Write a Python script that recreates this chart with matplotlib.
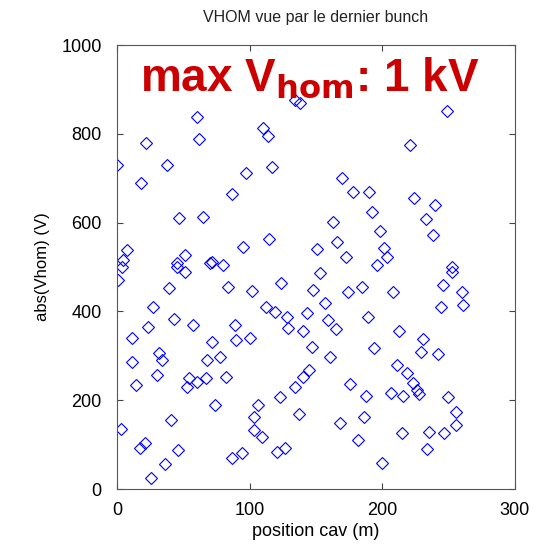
import numpy as np
import matplotlib
matplotlib.use("Agg")
import matplotlib.pyplot as plt

plt.rcParams['font.family'] = ['Liberation Sans', 'DejaVu Sans']

# position cav (m) and abs(Vhom) (V)
pos = [134, 138, 60, 62, 110, 114, 22, 0, 38, 117, 97, 18, 87, 47, 65, 115, 95, 151, 7.5, 4.5,
       51, 45, 72, 80, 249, 221, 170, 178, 190, 224, 240, 192, 233, 163, 238, 198, 166, 173, 201, 204,
       196, 253, 1, 4, 45, 51, 70, 39, 84, 102, 124, 148, 27, 23, 43, 57, 11, 112, 119, 128,
       129, 140, 143, 89, 90, 100, 147, 11, 32, 34, 72, 78, 68, 30, 14, 54, 60, 67, 53, 82,
       74, 123, 134, 140, 145, 106, 103, 103, 109, 137, 3, 41, 17, 21, 46, 36, 26, 87, 94, 121,
       127, 153, 157, 174, 185, 208, 246, 253, 260, 261, 244, 159, 165, 189, 213, 161, 194, 231, 229, 242,
       211, 219, 223, 226, 176, 188, 207, 216, 228, 250, 256, 256, 247, 235, 234, 215, 186, 168, 182, 200]
vhom = [876, 869, 838, 788, 813, 795, 779, 730, 730, 725, 712, 689, 664, 610, 613, 563, 545, 541, 538, 516,
        527, 509, 511, 504, 851, 775, 700, 669, 669, 655, 640, 624, 608, 601, 572, 581, 556, 523, 543, 523,
        504, 500, 471, 500, 500, 489, 509, 452, 455, 446, 464, 448, 410, 365, 383, 369, 340, 410, 399, 387,
        363, 356, 396, 369, 336, 340, 320, 286, 306, 291, 331, 297, 291, 257, 234, 250, 241, 250, 230, 252,
        189, 207, 230, 252, 268, 189, 162, 133, 117, 169, 135, 155, 92, 104, 88, 56, 25, 70, 81, 83,
        92, 486, 419, 444, 455, 444, 459, 489, 444, 414, 410, 381, 360, 387, 356, 297, 318, 338, 309, 304,
        279, 261, 239, 223, 236, 209, 216, 209, 214, 207, 173, 144, 126, 128, 90, 126, 162, 149, 110, 59]

fig = plt.figure(figsize=(5.43, 5.51), dpi=100)
ax = fig.add_axes([0.2155, 0.1125, 0.7325, 0.8055])

ax.plot(pos, vhom, 'D', mfc='none', mec='#0000ff', ms=6.5, mew=0.8)

ax.set_xlim(0, 300)
ax.set_ylim(0, 1000)
ax.set_xticks([0, 100, 200, 300])
ax.set_yticks([0, 200, 400, 600, 800, 1000])
ax.tick_params(direction='in', top=True, right=True, labelsize=13, length=4, color='#444444')
ax.tick_params(axis='y', pad=11)
ax.tick_params(axis='x', pad=9)
for s in ax.spines.values():
    s.set_color('#555555')

ax.set_title('VHOM vue par le dernier bunch', fontsize=11.5, pad=17, color='#222222')
ax.set_xlabel('position cav (m)', fontsize=13, labelpad=3)
ax.set_ylabel('abs(Vhom) (V)', fontsize=12, labelpad=8)

ax.text(0.058, 0.898, r'max V$_{\mathbf{hom}}$: 1 kV', transform=ax.transAxes,
        ha='left', va='baseline', color='#cc0000', fontsize=33, fontweight='bold')

fig.savefig('out.png', dpi=100)
